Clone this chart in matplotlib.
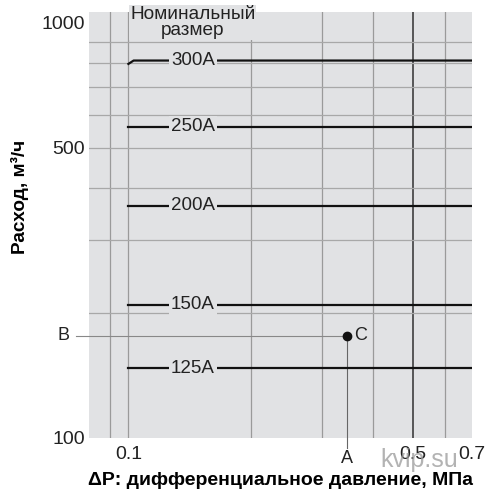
import matplotlib
matplotlib.use("Agg")
import matplotlib.pyplot as plt

plt.rcParams['font.family'] = ['Liberation Sans', 'DejaVu Sans']

# data
sizes = ["300A", "250A", "200A", "150A", "125A"]
flows = [810, 561, 362, 209, 147]
dp_start = 0.1
dp_end = 0.7
hook_flow = 795          # small bend at the start of the 300A curve
point_dp = 0.344         # point C (A on x axis)
point_flow = 176         # point C (B on y axis)
x_grid = [0.09, 0.1, 0.2, 0.3, 0.4, 0.6]
x_major = [0.5]
y_grid = [200, 300, 400, 500, 600, 700, 800, 900]
x_ticks = [0.1, 0.5, 0.7]
x_ticklabels = ["0.1", "0.5", "0.7"]
y_ticks = [100, 500, 1000]
y_ticklabels = ["100", "500", "1000"]
label_dp = 0.144

bg = "#e1e2e4"
fig = plt.figure(figsize=(5, 5.01), dpi=100)
ax = fig.add_axes([0.178, 0.126, 0.766, 0.850])
ax.set_xscale("log")
ax.set_yscale("log")
ax.set_xlim(0.08, 0.7)
ax.set_ylim(100, 1060)
ax.set_facecolor(bg)
for s in ax.spines.values():
    s.set_visible(False)

for x in x_grid:
    ax.axvline(x, color="#9a9a9a", lw=0.9, zorder=1)
for x in x_major:
    ax.axvline(x, color="#303030", lw=1.1, zorder=1)
for y in y_grid:
    ax.axhline(y, color="#a8a8a8", lw=0.9, zorder=1)

for name, f in zip(sizes, flows):
    if name == "300A":
        ax.plot([dp_start, 0.103, dp_end], [hook_flow, f, f], color="#111111", lw=1.6, zorder=3)
    else:
        ax.plot([dp_start, dp_end], [f, f], color="#111111", lw=1.6, zorder=3)
    ax.text(label_dp, f, name, ha="center", va="center", fontsize=13.5, color="#222222", zorder=4,
            bbox=dict(facecolor=bg, edgecolor="none", pad=1.5))

ax.text(label_dp, 1000, "Номинальный\nразмер", ha="center", va="center", fontsize=13.7,
        color="#222222", linespacing=0.92, zorder=4,
        bbox=dict(facecolor=bg, edgecolor="none", pad=0.5))

# point C with reference lines
ax.plot([0.0743, point_dp], [point_flow, point_flow], color="#888888", lw=0.8, clip_on=False, zorder=2)
ax.plot([point_dp, point_dp], [point_flow, 94.5], color="#666666", lw=0.8, clip_on=False, zorder=2)
ax.plot([point_dp], [point_flow], "o", color="#111111", ms=6, zorder=5)
ax.text(point_dp * 1.045, point_flow, "C", ha="left", va="center", fontsize=13, color="#222222")
ax.text(0.0694, point_flow, "B", ha="center", va="center", fontsize=13, color="#222222",
        clip_on=False)
ax.text(point_dp, 93.4, "A", ha="center", va="top", fontsize=13, color="#222222", clip_on=False)

ax.set_xticks(x_ticks)
ax.set_xticklabels(x_ticklabels)
ax.set_yticks(y_ticks)
ax.set_yticklabels(y_ticklabels)
ax.minorticks_off()
ax.tick_params(length=0, labelsize=14, colors="#222222")
ax.tick_params(axis="x", pad=6)
ax.tick_params(axis="y", pad=3)

ax.set_xlabel("ΔP: дифференциальное давление, МПа", fontsize=14, fontweight="bold", labelpad=6)
fig.text(0.04, 0.607, "Расход, м³/ч", rotation=90, ha="center", va="center",
         fontsize=13.7, fontweight="bold")
fig.text(0.838, 0.082, "kvip.su", ha="center", va="center", fontsize=18, color="#9a9a9a", alpha=0.75)

fig.savefig("out.png", dpi=100)
